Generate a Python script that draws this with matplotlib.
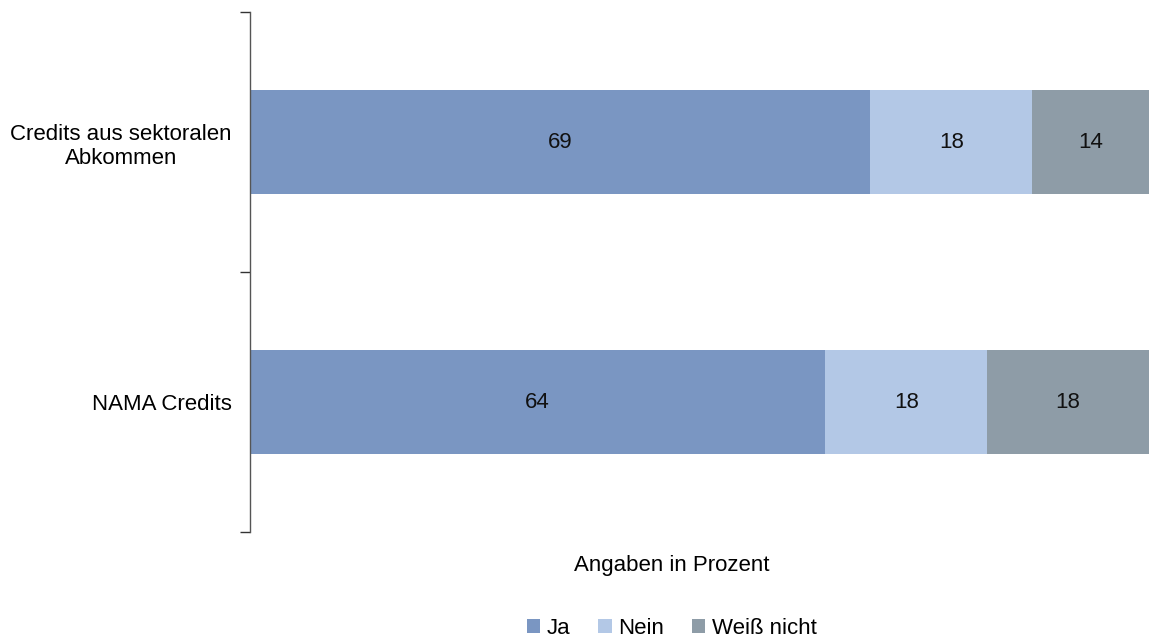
import matplotlib
import matplotlib.pyplot as plt
from matplotlib.patches import Patch

matplotlib.use("Agg")
plt.rcParams["font.family"] = ["Liberation Sans", "DejaVu Sans"]

categories = ["NAMA Credits", "Credits aus sektoralen\nAbkommen"]
series_names = ["Ja", "Nein", "Weiß nicht"]
ja = [64, 69]
nein = [18, 18]
weiss_nicht = [18, 14]
colors = ["#7A96C2", "#B3C8E6", "#8E9CA7"]


def main() -> None:
    fig = plt.figure(figsize=(11.49, 6.37), dpi=100)
    ax = fig.add_axes([250 / 1149, 1 - 532 / 637, 899 / 1149, 520 / 637])

    ypos = list(range(len(categories)))
    left = [0] * len(categories)
    for name, vals, col in zip(series_names, [ja, nein, weiss_nicht], colors):
        ax.barh(ypos, vals, left=left, height=0.4, color=col, label=name)
        for y, l, v in zip(ypos, left, vals):
            # last segment overshoots 100 (rounding), centre it in the visible part
            cx = min(l + v / 2, (l + 100) / 2)
            ax.text(cx, y, str(v), ha="center", va="center", fontsize=16, color="#111111")
        left = [a + b for a, b in zip(left, vals)]

    ax.set_xlim(0, 100)
    ax.set_ylim(-0.5, len(categories) - 0.5)
    ax.set_yticks([-0.5, 0.5, 1.5])
    ax.set_yticklabels([])
    ax.set_yticks(ypos, minor=True)
    ax.set_yticklabels(categories, minor=True, fontsize=16, multialignment="center")
    ax.tick_params(axis="y", which="minor", length=0, pad=13)
    ax.tick_params(axis="y", which="major", length=7, width=1.0, color="#333333")
    ax.set_xticks([])
    for s in ["top", "right", "bottom"]:
        ax.spines[s].set_visible(False)
    ax.spines["left"].set_color("#555555")
    ax.spines["left"].set_linewidth(1.0)

    fig.text(672 / 1149, 1 - 565 / 637, "Angaben in Prozent", ha="center", va="center", fontsize=16)

    handles = [Patch(facecolor=c, label=n) for n, c in zip(series_names, colors)]
    fig.legend(handles=handles, loc="center", bbox_to_anchor=(672 / 1149, 1 - 628 / 637), ncol=3,
               frameon=False, fontsize=16, handlelength=0.6, handleheight=0.6, handletextpad=0.3,
               columnspacing=1.25, borderpad=0, borderaxespad=0)

    fig.savefig("out.png", dpi=100)
    plt.close(fig)


if __name__ == "__main__":
    main()
